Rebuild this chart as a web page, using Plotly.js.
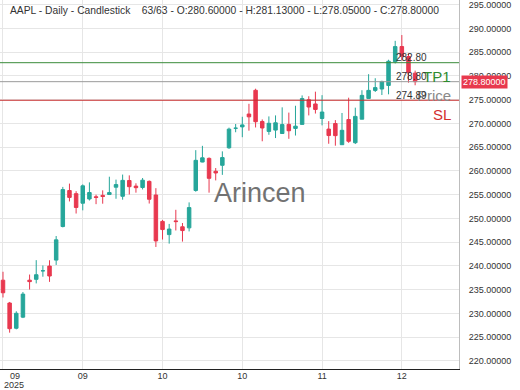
<!DOCTYPE html>
<html>
<head>
<meta charset="utf-8">
<script src="https://cdn.plot.ly/plotly-3.0.1.min.js"></script>
<style>html,body{margin:0;padding:0;background:#fff;}#chart{width:520px;height:390px;}</style>
</head>
<body>
<div id="chart"></div>
<script>
const dates = ["2025-09-09","2025-09-10","2025-09-11","2025-09-12","2025-09-15","2025-09-16","2025-09-17","2025-09-18","2025-09-19","2025-09-22","2025-09-23","2025-09-24","2025-09-25","2025-09-26","2025-09-29","2025-09-30","2025-10-01","2025-10-02","2025-10-03","2025-10-06","2025-10-07","2025-10-08","2025-10-09","2025-10-10","2025-10-13","2025-10-14","2025-10-15","2025-10-16","2025-10-17","2025-10-20","2025-10-21","2025-10-22","2025-10-23","2025-10-24","2025-10-27","2025-10-28","2025-10-29","2025-10-30","2025-10-31","2025-11-03","2025-11-04","2025-11-05","2025-11-06","2025-11-07","2025-11-10","2025-11-11","2025-11-12","2025-11-13","2025-11-14","2025-11-17","2025-11-18","2025-11-19","2025-11-20","2025-11-21","2025-11-24","2025-11-25","2025-11-26","2025-11-28","2025-12-01","2025-12-02","2025-12-03","2025-12-04","2025-12-05"];
const openV = [237.00,232.19,226.88,229.22,237.00,237.18,238.97,239.97,241.23,248.30,255.88,255.22,253.21,254.10,254.56,254.86,255.04,256.58,254.67,257.99,256.81,256.52,257.81,254.94,249.38,246.60,249.49,248.25,248.02,255.89,261.88,262.65,259.94,261.19,264.88,268.99,269.28,271.99,276.99,270.42,268.33,268.61,267.89,269.80,268.96,269.81,275.00,274.11,271.05,268.82,269.99,265.53,270.83,265.95,270.90,275.27,276.96,277.26,278.01,283.00,286.20,284.10,280.60];
const highV = [238.78,232.42,230.45,234.51,238.19,241.22,240.10,241.20,246.30,256.64,257.34,255.74,257.17,257.60,255.00,255.92,258.79,258.18,259.24,259.07,257.40,258.52,258.00,256.38,249.69,248.85,251.82,249.04,253.38,264.38,265.29,262.85,260.62,264.13,269.12,269.89,271.41,274.14,277.32,270.85,271.49,271.70,273.40,272.29,273.73,275.91,275.73,276.70,275.96,270.49,270.71,272.21,275.43,273.33,277.00,280.38,279.53,279.00,283.42,287.40,288.62,284.73,281.13];
const lowV = [233.36,225.95,226.65,229.02,235.03,236.32,237.73,236.65,240.21,248.12,253.58,251.04,251.71,253.78,253.01,253.11,254.93,254.15,253.95,255.05,255.43,256.11,253.14,244.00,245.56,244.70,247.47,245.13,247.27,255.63,261.83,255.43,258.01,259.18,264.65,268.15,267.11,268.48,269.16,266.25,267.62,266.93,267.89,266.77,267.46,269.80,271.70,272.09,269.60,265.73,265.32,265.50,265.92,265.67,270.90,275.25,276.63,275.99,276.14,282.63,283.30,278.59,278.05];
const closeV = [234.35,226.79,230.03,234.07,236.70,238.15,238.99,237.88,245.50,256.08,254.43,252.31,256.87,255.46,254.43,254.63,255.45,257.13,258.02,256.69,256.48,258.06,254.04,245.27,247.66,247.77,249.34,247.45,252.29,262.24,262.77,258.45,259.58,262.82,268.81,269.00,269.70,271.40,270.37,269.05,270.04,270.14,269.77,268.47,269.43,275.25,273.47,272.95,272.41,267.46,267.44,268.56,266.25,271.49,275.92,276.97,277.55,278.85,283.10,286.19,284.15,280.70,278.80];

const tickIdx = [0,12,24,36,48,60];
const tickLabels = ["09","09","10","10","11","12"];
const firstTickYear = "2025";

const levelValues = [282.80, 278.80, 274.89];
const levelTexts = ["282.80", "278.80", "274.89"];
const levelNames = ["TP1", "Price", "SL"];
const levelColors = ["#3b8c3b", "#9a9a9a", "#c62f2f"];
const nameColors = ["#2e8b2e", "#8a8a8a", "#d32f2f"];

const symbol = "AAPL", period = "Daily", chartType = "Candlestick";
const lastIdx = closeV.length - 1;
const titleText = symbol + " - " + period + " - " + chartType + "\u00a0\u00a0\u00a0\u00a0" +
  (lastIdx + 1) + "/" + closeV.length +
  " - O:" + openV[lastIdx].toFixed(5) + " - H:" + highV[lastIdx].toFixed(5) +
  " - L:" + lowV[lastIdx].toFixed(5) + " - C:" + closeV[lastIdx].toFixed(5);

const UP = "#26a69a", DOWN = "#e8384f";
const FONT = "Liberation Sans, Arial, sans-serif";

const trace = {
  type: "candlestick",
  x: dates, open: openV, high: highV, low: lowV, close: closeV,
  increasing: {line: {color: UP, width: 1}, fillcolor: UP},
  decreasing: {line: {color: DOWN, width: 1}, fillcolor: DOWN},
  whiskerwidth: 0,
  hoverinfo: "skip"
};

const shapes = levelValues.map((v, i) => ({
  type: "line", xref: "paper", x0: 0, x1: 1, yref: "y", y0: v, y1: v,
  line: {color: levelColors[i], width: 1}
}));

const annotations = [];
annotations.push({
  xref: "paper", yref: "paper", x: 0.017, y: 1, xanchor: "left", yanchor: "top", yshift: -3,
  text: titleText, showarrow: false, font: {family: FONT, size: 10.3, color: "#333"}
});
annotations.push({
  xref: "paper", yref: "paper", x: 0.567, y: 0.477, xanchor: "center", yanchor: "middle",
  text: "Arincen", showarrow: false, font: {family: FONT, size: 27, color: "#727272"}
});
levelValues.forEach((v, i) => {
  annotations.push({
    xref: "paper", yref: "y", x: 0.986, y: v, xanchor: "right", yanchor: "middle", yshift: -14,
    text: levelNames[i], showarrow: false, font: {family: FONT, size: 15, color: nameColors[i]}
  });
});
levelValues.forEach((v, i) => {
  annotations.push({
    xref: "paper", yref: "y", x: 0.859, y: v, xanchor: "left", yanchor: "middle", yshift: 5,
    text: levelTexts[i], showarrow: false, font: {family: FONT, size: 10, color: "#333"}
  });
});
annotations.push({
  xref: "paper", yref: "y", x: 1, y: closeV[lastIdx], xanchor: "left", yanchor: "middle", xshift: 2,
  text: closeV[lastIdx].toFixed(5), showarrow: false, bgcolor: "#e8394d", borderpad: 1,
  font: {family: FONT, size: 9, color: "#fff"}
});
annotations.push({
  xref: "x", yref: "paper", x: tickIdx[0], y: 0, xanchor: "left", yanchor: "middle", xshift: 6, yshift: -7,
  text: tickLabels[0], showarrow: false, borderpad: 0,
  font: {family: FONT, size: 9, color: "#333"}
});
annotations.push({
  xref: "x", yref: "paper", x: tickIdx[0], y: 0, xanchor: "left", yanchor: "middle", xshift: 0, yshift: -16,
  text: firstTickYear, showarrow: false, borderpad: 0,
  font: {family: FONT, size: 9, color: "#333"}
});

const layout = {
  width: 520, height: 390,
  margin: {l: 0, r: 61, t: 0, b: 21, pad: 0},
  paper_bgcolor: "#fff", plot_bgcolor: "#fff",
  showlegend: false,
  boxgap: 0.25,
  font: {family: FONT, size: 9, color: "#333"},
  xaxis: {
    type: "category", range: [-0.45, 68.6],
    tickmode: "array", tickvals: tickIdx.map(i => dates[i]),
    ticktext: tickLabels.map((t, k) => k === 0 ? "" : t),
    showgrid: true, gridcolor: "#e6e6e6", gridwidth: 1,
    showline: true, linecolor: "#222", linewidth: 1,
    ticks: "", rangeslider: {visible: false}, ticklabelstandoff: -2,
    tickfont: {family: FONT, size: 9, color: "#333"}, zeroline: false
  },
  yaxis: {
    side: "right", range: [218.3, 296.0],
    tick0: 220, dtick: 5, tickformat: ".5f",
    showgrid: true, gridcolor: "#e6e6e6", gridwidth: 1,
    showline: true, linecolor: "#bdbdbd", linewidth: 1,
    ticks: "", ticklabelstandoff: 7, zeroline: false, ticklabeloverflow: "allow",
    tickfont: {family: FONT, size: 9, color: "#333"}
  },
  shapes: shapes,
  annotations: annotations
};

Plotly.newPlot("chart", [trace], layout, {staticPlot: true, displayModeBar: false});
</script>
</body>
</html>
